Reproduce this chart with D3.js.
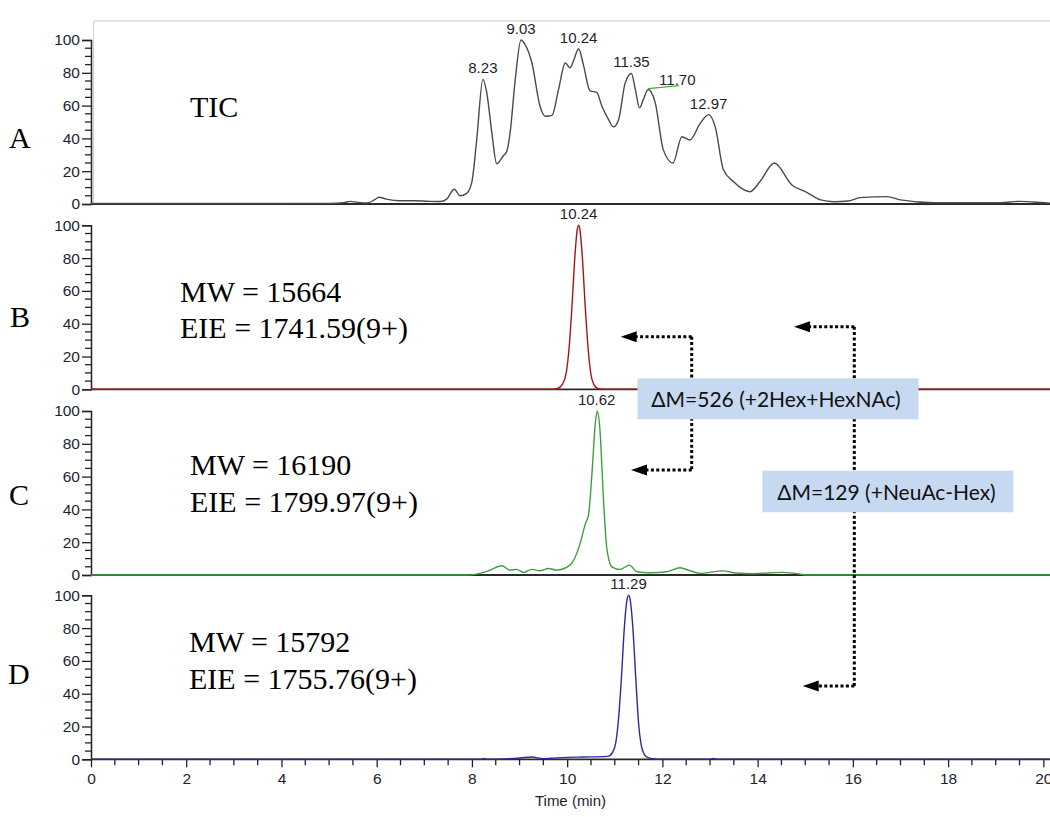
<!DOCTYPE html>
<html><head><meta charset="utf-8">
<script src="https://cdn.jsdelivr.net/npm/d3@7"></script>
<style>body{margin:0;background:#fff}svg{display:block}</style>
</head><body>
<svg id="chart" width="1050" height="817"></svg>
<script>
// ---------- DATA ----------
const ticTime  = [0,1,2,3,4,5.0,5.3,5.45,5.6,5.8,5.95,6.05,6.2,6.49,6.8,7.1,7.33,7.47,7.63,7.75,7.89,8.0,8.10,8.23,8.31,8.42,8.52,8.66,8.73,8.80,8.91,9.03,9.10,9.26,9.43,9.54,9.68,9.82,9.96,10.06,10.13,10.24,10.34,10.48,10.62,10.73,10.87,10.97,11.08,11.22,11.35,11.43,11.52,11.60,11.70,11.85,12.02,12.22,12.41,12.58,12.79,12.97,13.11,13.28,13.49,13.84,14.05,14.35,14.72,15.04,15.32,15.6,15.9,16.15,16.72,17.0,17.7,19.1,19.5,19.8,20.14];
const ticValue = [0.3,0.3,0.3,0.3,0.3,0.4,0.8,1.6,1.0,0.6,2.5,4.1,3.0,2.0,2.0,1.6,1.5,3,9,5,6.5,13.7,39,76,68,43,24.5,29.4,32,43,76,100,98,86,59.6,53.5,54,70,86,83,87,94.7,85,69,68,59.6,51.4,47,51.4,74,79.6,70,58.6,63.7,69.8,61.7,33,25,41,39,49,54.5,47,21,13.7,7.5,13.7,25,11.6,7,2.5,1.4,1.8,3.9,4.5,2.5,0.8,0.8,1.6,1.2,0.5];

const bTime  = [0,9.70,9.80,9.90,9.98,10.04,10.10,10.16,10.21,10.24,10.27,10.32,10.38,10.44,10.50,10.56,10.64,10.74,20.14];
const bValue = [0,0,0.5,3,10,25,50,80,97,100,97,80,50,25,9,3,0.5,0,0];

const cTime  = [0,7.93,8.24,8.35,8.63,8.80,8.94,9.08,9.26,9.43,9.61,9.78,10.06,10.27,10.38,10.45,10.52,10.59,10.63,10.69,10.76,10.83,10.94,11.11,11.31,11.46,11.74,12.09,12.37,12.58,12.79,13.28,13.54,13.9,14.51,14.9,15.0,20.14];
const cValue = [0,0,1.6,2.6,5.6,3,3.4,1.6,3.4,2.6,4,3,6,19,31,37,61.6,92,100,88,47.5,17,5,3.4,6,2,1.4,2,4.4,2.6,1,2.5,1.2,0.8,1.6,0.5,0,0];

const dTime  = [0,8.2,8.26,8.32,9.01,9.26,9.5,9.64,10.0,10.34,10.85,10.95,11.02,11.08,11.14,11.20,11.25,11.29,11.33,11.38,11.44,11.50,11.56,11.62,11.70,11.80,11.9,13.0,13.07,13.14,20.14];
const dValue = [0,0,0.5,0,0.8,1.4,0.4,0.6,1.2,1.4,1.8,4,10,25,50,80,96,100,96,80,50,22,8,3,1,0.3,0,0,0.5,0,0];

const panelLetters = ["A","B","C","D"];
const yTickValues = [0,20,40,60,80,100];
const xTickValues = [0,2,4,6,8,10,12,14,16,18,20];

const ticPeakTimes  = [8.23, 9.03, 10.24, 11.35, 12.97];
const ticPeakValues = [76, 100, 94.7, 79.6, 54.5];
const ticLeaderPeak = {time: 11.70, value: 69.8};
const bPeak = {time: 10.24, value: 100};
const cPeak = {time: 10.62, value: 100};
const dPeak = {time: 11.29, value: 100};

const mwLines = [
  null,
  ["MW = 15664", "EIE = 1741.59(9+)"],
  ["MW = 16190", "EIE = 1799.97(9+)"],
  ["MW = 15792", "EIE = 1755.76(9+)"]
];
const box1Text = "\u0394M=526 (+2Hex+HexNAc)";
const box2Text = "\u0394M=129 (+NeuAc-Hex)";

// ---------- LAYOUT ----------
const svg = d3.select("#chart");
const W = 1050;
const x = d3.scaleLinear().domain([0, 20.14]).range([91, 1050]);
const zeros = [204, 389.3, 575, 759.3];
const pH = 164;
const yScales = zeros.map(z => d3.scaleLinear().domain([0,100]).range([z, z - pH]));

const series = [
  {t: ticTime, v: ticValue, color: "#4a4a4a"},
  {t: bTime, v: bValue, color: "#a3151b"},
  {t: cTime, v: cValue, color: "#3f9e3f"},
  {t: dTime, v: dValue, color: "#2b2ba0"}
];

const tickFont = "'Liberation Sans', Arial, sans-serif";
const serif = "'Liberation Serif', 'Times New Roman', serif";
const textCol = "#1e1e2e";

// top light frame of panel A
svg.append("line").attr("x1", 94).attr("x2", W).attr("y1", 21).attr("y2", 21)
  .attr("stroke", "#c8c8c8").attr("stroke-width", 1.2);
svg.append("line").attr("x1", 93.5).attr("x2", 93.5).attr("y1", 21).attr("y2", zeros[0])
  .attr("stroke", "#d0d0d0").attr("stroke-width", 1);

series.forEach((s, i) => {
  const y = yScales[i];
  const g = svg.append("g");
  g.append("line").attr("x1", x(0)).attr("x2", W).attr("y1", y(0)).attr("y2", y(0))
    .attr("stroke", "#2a2a2a").attr("stroke-width", 1.8);
  const ax = g.append("g").attr("transform", `translate(${x(0)},0)`);
  ax.call(d3.axisLeft(y).tickValues(yTickValues).tickSize(9).tickPadding(2))
    .call(a => a.select(".domain").attr("stroke", "#222").attr("stroke-width", 1.5))
    .call(a => a.selectAll(".tick line").attr("stroke", "#222").attr("stroke-width", 1.3))
    .call(a => a.selectAll("text").attr("font-family", tickFont).attr("font-size", 15.5).attr("fill", textCol));
  const minor = d3.range(0, 101, 5).filter(v => v % 20 !== 0);
  ax.selectAll(".minor").data(minor).join("line").attr("class", "minor")
    .attr("x1", -6).attr("x2", 0).attr("y1", d => y(d)).attr("y2", d => y(d))
    .attr("stroke", "#222").attr("stroke-width", 1.3);
  const line = d3.line().x((d) => x(d[0])).y(d => y(d[1])).curve(d3.curveMonotoneX);
  g.append("path").datum(s.t.map((t, k) => [t, s.v[k]]))
    .attr("d", line).attr("fill", "none").attr("stroke", s.color).attr("stroke-width", 1.4);
});

// bottom x axis
const xa = svg.append("g").attr("transform", `translate(0,${zeros[3]})`);
xa.call(d3.axisBottom(x).tickValues(xTickValues).tickSize(8).tickPadding(6).tickFormat(d3.format("d")))
  .call(a => a.select(".domain").remove())
  .call(a => a.selectAll(".tick line").attr("stroke", "#222").attr("stroke-width", 1.3))
  .call(a => a.selectAll("text").attr("font-family", tickFont).attr("font-size", 15.5).attr("fill", textCol));
xa.selectAll(".minor").data(d3.range(0.5, 20.1, 0.5).filter(v => v % 2 !== 0)).join("line")
  .attr("class", "minor").attr("x1", d => x(d)).attr("x2", d => x(d)).attr("y1", 0).attr("y2", 6)
  .attr("stroke", "#222").attr("stroke-width", 1.3);
svg.append("text").attr("x", (x(0) + W) / 2).attr("y", 806).attr("text-anchor", "middle")
  .attr("font-family", tickFont).attr("font-size", 15).attr("fill", textCol).text("Time (min)");

// peak labels
function peakLabel(i, t, v) {
  svg.append("text").attr("x", x(t)).attr("y", yScales[i](v) - 6).attr("text-anchor", "middle")
    .attr("font-family", tickFont).attr("font-size", 15).attr("fill", textCol)
    .text(d3.format(".2f")(t));
}
ticPeakTimes.forEach((t, k) => peakLabel(0, t, ticPeakValues[k]));
peakLabel(1, bPeak.time, bPeak.value);
peakLabel(2, cPeak.time, cPeak.value);
peakLabel(3, dPeak.time, dPeak.value);
{
  const px = x(ticLeaderPeak.time), py = yScales[0](ticLeaderPeak.value);
  svg.append("line").attr("x1", px).attr("y1", py - 1).attr("x2", px + 31).attr("y2", py - 4)
    .attr("stroke", "#3cb043").attr("stroke-width", 1.2);
  svg.append("text").attr("x", px + 11).attr("y", py - 5).attr("font-family", tickFont)
    .attr("font-size", 15).attr("fill", textCol).text(d3.format(".2f")(ticLeaderPeak.time));
}

// panel letters and annotations
const letterPos = [[9, 148], [10, 327], [9, 505], [8, 684]];
panelLetters.forEach((L, i) => {
  svg.append("text").attr("x", letterPos[i][0]).attr("y", letterPos[i][1])
    .attr("font-family", serif).attr("font-size", 30).attr("fill", "#000").text(L);
});
svg.append("text").attr("x", 190).attr("y", 117).attr("font-family", serif)
  .attr("font-size", 30).attr("fill", "#000").text("TIC");
const mwPos = [null, [180, 302, 338], [190, 475, 511.5], [189, 652, 688.5]];
mwLines.forEach((lines, i) => {
  if (!lines) return;
  const p = mwPos[i];
  svg.append("text").attr("x", p[0]).attr("y", p[1]).attr("font-family", serif)
    .attr("font-size", 30).attr("fill", "#000").text(lines[0]);
  svg.append("text").attr("x", p[0]).attr("y", p[2]).attr("font-family", serif)
    .attr("font-size", 30).attr("fill", "#000").text(lines[1]);
});

// dotted arrows
const arr = svg.append("g");
function dotted(x1, y1, x2, y2) {
  arr.append("line").attr("x1", x1).attr("y1", y1).attr("x2", x2).attr("y2", y2)
    .attr("stroke", "#000").attr("stroke-width", 3).attr("stroke-dasharray", "3,2.4");
}
function head(tipX, y) {
  arr.append("path").attr("d", `M${tipX},${y} L${tipX + 16},${y - 5.5} L${tipX + 16},${y + 5.5} Z`)
    .attr("fill", "#000");
}
dotted(691.7, 336.7, 691.7, 470);
dotted(691.7, 336.7, 636, 336.7); head(620.7, 336.7);
dotted(691.7, 470, 646, 470); head(631, 470);
dotted(854.3, 326.7, 854.3, 686);
dotted(854.3, 326.7, 809, 326.7); head(794, 326.7);
dotted(854.3, 686, 818, 686); head(802.7, 686);

// boxes
const boxFont = "Lato, 'Open Sans', sans-serif";
function box(x0, y0, w, h, txt, cx, by) {
  svg.append("rect").attr("x", x0).attr("y", y0).attr("width", w).attr("height", h)
    .attr("fill", "#c6d9f1");
  svg.append("text").attr("x", cx).attr("y", by).attr("text-anchor", "middle")
    .attr("font-family", boxFont).attr("font-size", 21).attr("fill", "#111").text(txt);
}
box(637.5, 378.3, 281, 41, box1Text, 776, 406.5);
box(762.3, 470.7, 251, 41.6, box2Text, 886.5, 499.5);
</script>
</body></html>
